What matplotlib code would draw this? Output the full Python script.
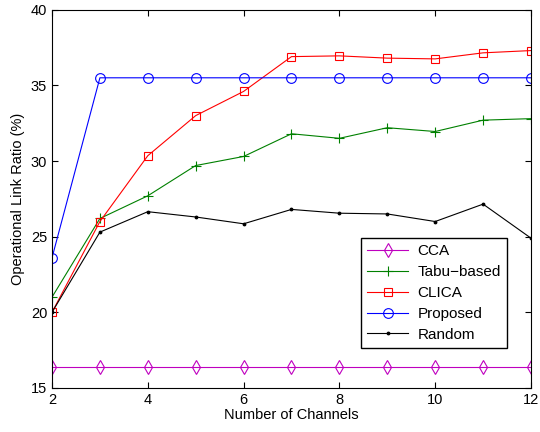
import matplotlib
matplotlib.use("Agg")
import matplotlib.pyplot as plt

plt.rcParams['font.family'] = ['Liberation Sans', 'DejaVu Sans']

channels = [2, 3, 4, 5, 6, 7, 8, 9, 10, 11, 12]
cca = [16.4] * 11
tabu = [21.0, 26.2, 27.7, 29.7, 30.3, 31.8, 31.5, 32.2, 31.95, 32.7, 32.8]
clica = [20.0, 26.0, 30.35, 33.0, 34.6, 36.9, 36.95, 36.8, 36.75, 37.15, 37.3]
proposed = [23.6, 35.5, 35.5, 35.5, 35.5, 35.5, 35.5, 35.5, 35.5, 35.5, 35.5]
random_ch = [20.0, 25.3, 26.65, 26.3, 25.85, 26.8, 26.55, 26.5, 26.0, 27.15, 24.9]

fig = plt.figure(figsize=(5.4, 4.32), dpi=100)
ax = fig.add_axes([0.0963, 0.102, 0.887, 0.8755])

ax.plot(channels, cca, color='m', marker='d', mfc='none', ms=7.5, mew=0.8, lw=0.8, label='CCA')
ax.plot(channels, tabu, color=(0, 0.5, 0), marker='+', ms=7, mew=0.8, lw=0.8, label='Tabu\u2212based')
ax.plot(channels, clica, color='r', marker='s', mfc='none', ms=5.5, mew=0.8, lw=0.8, label='CLICA')
ax.plot(channels, proposed, color='b', marker='o', mfc='none', ms=7, mew=0.8, lw=0.8, label='Proposed')
ax.plot(channels, random_ch, color='k', marker='.', ms=3.5, lw=0.8, label='Random')

ax.set_xlim(2, 12)
ax.set_ylim(15, 40)
ax.set_xticks([2, 4, 6, 8, 10, 12])
ax.set_yticks([15, 20, 25, 30, 35, 40])
ax.tick_params(direction='in', top=True, right=True, labelsize=10.5, length=4)
ax.set_xlabel('Number of Channels', fontsize=10.5, labelpad=1)
ax.set_ylabel('Operational Link Ratio (%)', fontsize=10.5, labelpad=4)

leg = ax.legend(loc='lower right', bbox_to_anchor=(0.95, 0.106), borderaxespad=0,
                fancybox=False, edgecolor='k', framealpha=1, fontsize=11,
                borderpad=0.4, handlelength=2.7, handletextpad=0.6, labelspacing=0.45)
leg.get_frame().set_linewidth(1)

plt.savefig('out.png', dpi=100)
